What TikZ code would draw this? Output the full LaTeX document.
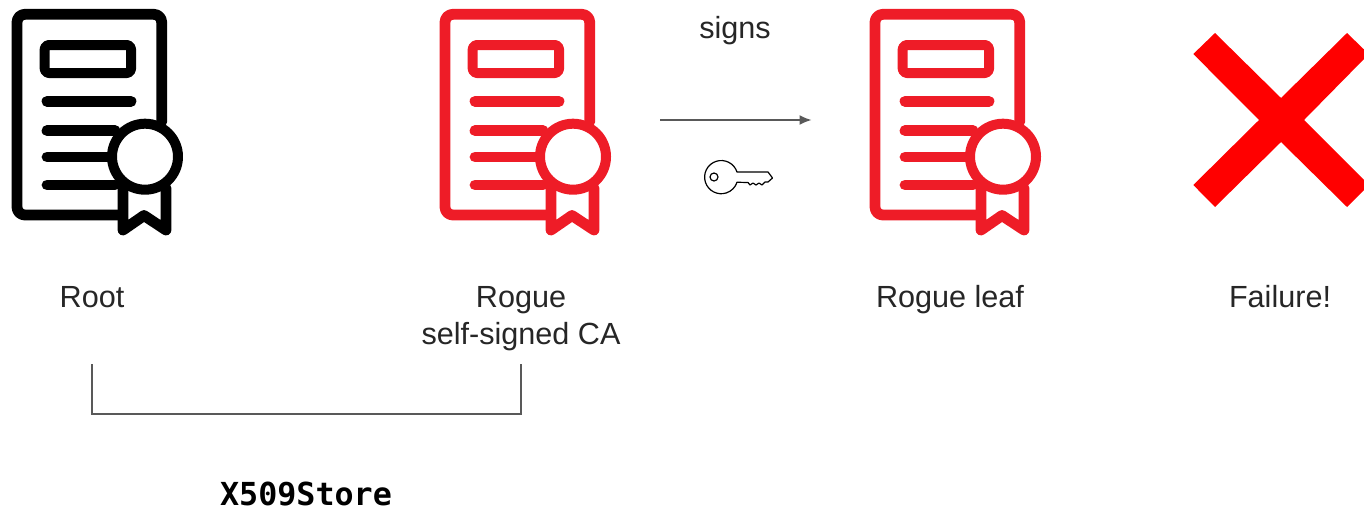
\documentclass[tikz,border=0pt]{standalone}
\usepackage{fontspec}
\usetikzlibrary{arrows.meta}
\setmainfont{Liberation Sans}
\newfontfamily\codefont{DejaVu Sans Mono}[BoldFont={DejaVu Sans Mono Bold}]
\definecolor{rogue}{HTML}{EE1C27}
\definecolor{cross}{HTML}{FF0000}
\definecolor{linegray}{HTML}{595959}
\definecolor{textgray}{HTML}{262626}
\tikzset{
  x=1pt,y=-1pt,
  label text/.style={font=\fontsize{30.6}{37}\selectfont,text=textgray,align=center,inner sep=0pt,anchor=base},
  conn/.style={draw=linegray,line width=1.5pt},
  pics/certicon/.style={code={
    \begin{scope}[draw=#1,line width=10.8pt,line cap=round,line join=round]
      \draw (122,215) -- (25,215) arc[start angle=90,end angle=180,radius=8] -- (17,22.3)
        arc[start angle=180,end angle=270,radius=8] -- (153.7,14.3)
        arc[start angle=-90,end angle=0,radius=8] -- (161.7,122);
      \draw[rounded corners=4pt,line width=10pt] (44.7,45) rectangle (131,73);
      \draw (47,101.3) -- (131,101.3);
      \draw (47,130.7) -- (115,130.7);
      \draw (47,157) -- (108,157);
      \draw (47,185) -- (115,185);
      \draw (123,188) -- (123,230) -- (144,215.5) -- (166,230) -- (166,188);
      \draw[line width=10pt,fill=white] (145,156.7) circle[radius=33];
    \end{scope}
  }},
}
\begin{document}
\begin{tikzpicture}
\useasboundingbox (0,0) rectangle (1364,506);
\pic at (0,0) {certicon=black};
\pic at (428,0) {certicon=rogue};
\pic at (858,0) {certicon=rogue};
\fill[cross] (1215,33) -- (1281,98) -- (1347,33) -- (1364,49.5) -- (1364,59) -- (1304,120)
  -- (1364,180) -- (1364,190) -- (1347,207) -- (1281,142) -- (1215,207) -- (1193.3,185)
  -- (1259,120) -- (1193.3,54) -- cycle;
\node[label text] (signs) at (735,38) {signs};
\node[label text] (root) at (92,307) {Root};
\node[label text] (rogue) at (521,344) {Rogue\\self-signed CA};
\node[label text] (leaf) at (950,307) {Rogue leaf};
\node[label text] (fail) at (1280,307) {Failure!};
\node[font=\codefont\bfseries\fontsize{31.7}{38}\selectfont,inner sep=0pt,anchor=base] (store) at (306,505) {X509Store};
\coordinate (signstart) at (660,120);
\coordinate (signend) at (811.5,120);
\coordinate (rootdrop) at (92,364);
\coordinate (roguedrop) at (521,364);
\draw[conn,-{Latex[length=12pt,width=10pt]}] (signstart) -- (signend);
\draw[conn] (rootdrop) -- ++(0,50) -| (roguedrop);
\begin{scope}[line width=1.2pt,draw=black,line join=round]
  \draw (737,172) arc[start angle=-18,end angle=-342,radius=16.6] -- (748,182.5)
    -- (750,185) -- (753,183) -- (756,185) -- (759,183) -- (762,185) -- (765,182)
    -- (768,182) -- (772.5,178) -- (768,172) -- cycle;
  \draw (714,177) circle[radius=4];
\end{scope}
\end{tikzpicture}
\end{document}
